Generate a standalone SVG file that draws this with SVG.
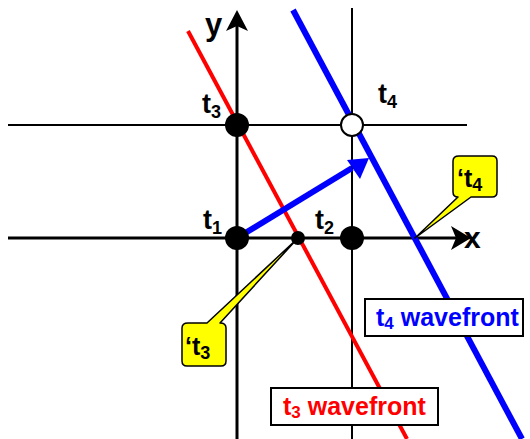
<svg xmlns="http://www.w3.org/2000/svg" width="530" height="439" viewBox="0 0 530 439">
<style>
text{font-family:"Liberation Sans",Arial,sans-serif;font-weight:bold}
.lbl{font-size:27px;fill:#000}
.sub{font-size:18px}
.thin{stroke:#000;stroke-width:2;fill:none}
.axis{stroke:#000;stroke-width:3;fill:none}
.box{fill:#fff;stroke:#000;stroke-width:2}
.call{fill:#ffff00;stroke:#000;stroke-width:1.5;stroke-linejoin:round}
</style>
<g id="connectors">
<line class="thin" x1="8" y1="125" x2="467" y2="125"/>
<line class="thin" x1="352" y1="8" x2="352" y2="439"/>
<line class="axis" x1="8" y1="238" x2="458" y2="238"/>
<path d="M471,238 L451,226 L456,238 L451,250 Z" fill="#000"/>
<line class="axis" x1="237" y1="439" x2="237" y2="25"/>
<path d="M237,10 L226,31 L237,26 L248,31 Z" fill="#000"/>
<line id="t3-wavefront-line" x1="188" y1="31" x2="407" y2="439" stroke="#ff0000" stroke-width="4"/>
<line id="t4-wavefront-line" x1="293" y1="10" x2="522" y2="439" stroke="#0000ff" stroke-width="6"/>
<line x1="237" y1="238" x2="352" y2="168" stroke="#0000ff" stroke-width="6"/>
<path d="M369,158 L347,160 L360,179 Z" fill="#0000ff"/>
</g>
<g id="t1"><circle cx="237" cy="238" r="12" fill="#000"/><text class="lbl" x="203" y="229">t<tspan class="sub" dy="5">1</tspan></text></g>
<g id="t2"><circle cx="352" cy="238" r="12" fill="#000"/><text class="lbl" x="315" y="229">t<tspan class="sub" dy="5">2</tspan></text></g>
<g id="t3"><circle cx="237" cy="125" r="12" fill="#000"/><text class="lbl" x="202" y="113">t<tspan class="sub" dy="5">3</tspan></text></g>
<g id="t4"><circle cx="352" cy="125" r="11" fill="#fff" stroke="#000" stroke-width="2"/><text class="lbl" x="378" y="103">t<tspan class="sub" dy="5">4</tspan></text></g>
<g id="p3"><circle cx="298" cy="238" r="7" fill="#000"/></g>
<g id="axis-labels"><text class="lbl" x="205" y="35" style="font-size:31px">y</text><text class="lbl" x="464" y="248" style="font-size:30px">x</text></g>
<g id="callout-t4">
<path class="call" d="M459,156 H492 Q497,156 497,161 V192 Q497,197 492,197 H471 L415,238 L458,197 Q453,197 453,192 V161 Q453,156 459,156 Z"/>
<text x="457" y="187" style="font-size:25px">‘t<tspan class="sub" dy="4">4</tspan></text>
</g>
<g id="callout-t3">
<path class="call" d="M188,323 H207 L298,238 L220,323 Q226,323 226,328 V361 Q226,366 221,366 H187 Q182,366 182,361 V328 Q182,323 188,323 Z"/>
<text x="185" y="355" style="font-size:25px">‘t<tspan class="sub" dy="4">3</tspan></text>
</g>
<g id="t4-wavefront"><rect class="box" x="365" y="299" width="158" height="37"/><text x="376" y="326" style="font-size:25px;fill:#0000ff">t<tspan class="sub" style="font-size:17px" dy="3">4</tspan><tspan dy="-3"> wavefront</tspan></text></g>
<g id="t3-wavefront"><rect class="box" x="271" y="388" width="167" height="37"/><text x="283" y="415" style="font-size:25px;fill:#ff0000">t<tspan class="sub" style="font-size:17px" dy="3">3</tspan><tspan dy="-3"> wavefront</tspan></text></g>
</svg>
